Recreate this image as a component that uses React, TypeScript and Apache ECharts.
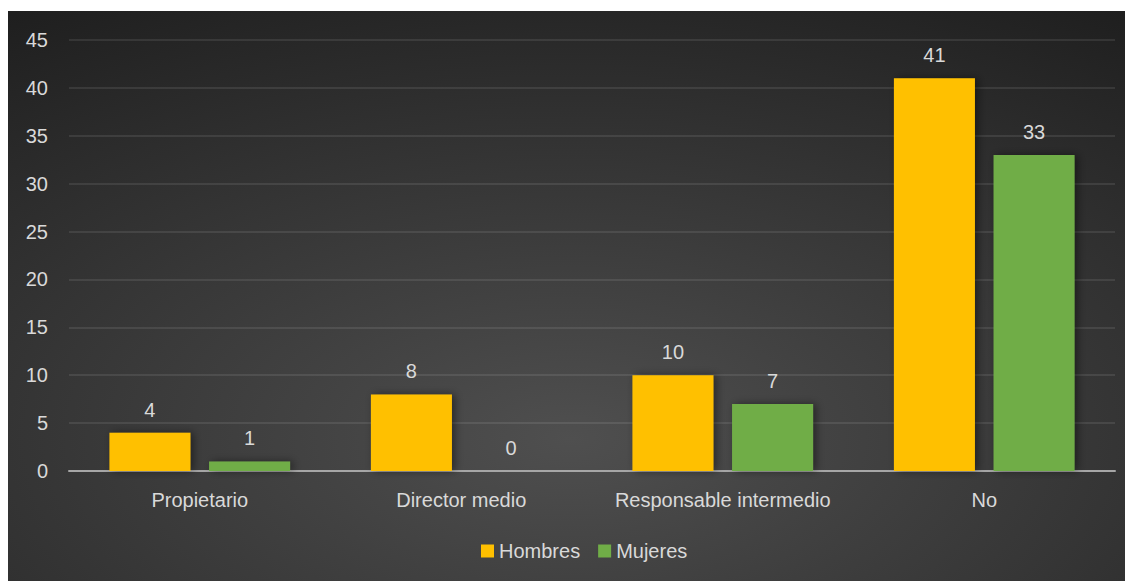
import React, { useEffect, useRef } from "react";
import * as echarts from "echarts";

const categories = ["Propietario", "Director medio", "Responsable intermedio", "No"];
const hombres = [4, 8, 10, 41];
const mujeres = [1, 0, 7, 33];
const seriesNames = ["Hombres", "Mujeres"];

export default function App() {
  const ref = useRef<HTMLDivElement>(null);
  useEffect(() => {
    const chart = echarts.init(ref.current!, null, { renderer: "svg" });
    const font = "'Liberation Sans', Arial, sans-serif";
    const txt = "#d9d9d9";
    const fs = 20;
    chart.setOption({
      animation: false,
      backgroundColor: {
        type: "radial",
        x: 0.5,
        y: 0.75,
        r: 0.95,
        colorStops: [
          { offset: 0, color: "#4f4f4f" },
          { offset: 1, color: "#1c1c1c" },
        ],
      },
      textStyle: { fontFamily: font },
      grid: { left: 61, right: 18, top: 29, bottom: 110, containLabel: false },
      legend: {
        bottom: 15,
        left: 468,
        itemWidth: 13,
        itemHeight: 13,
        itemGap: 18,
        icon: "rect",
        textStyle: { color: txt, fontSize: fs, fontFamily: font },
        data: seriesNames,
      },
      xAxis: {
        type: "category",
        data: categories,
        axisLine: { lineStyle: { color: "#a6a6a6", width: 2 } },
        axisTick: { show: false },
        axisLabel: { color: txt, fontSize: fs, margin: 19, interval: 0, fontFamily: font },
      },
      yAxis: {
        type: "value",
        min: 0,
        max: 45,
        interval: 5,
        axisLine: { show: false },
        axisTick: { show: false },
        axisLabel: { color: txt, fontSize: fs, margin: 21, fontFamily: font },
        splitLine: { lineStyle: { color: "rgba(255,255,255,0.12)", width: 1.5 } },
      },
      series: [
        {
          name: seriesNames[0],
          type: "bar",
          data: hombres,
          barWidth: 81,
          barGap: "23%",
          itemStyle: { color: "#ffc000", shadowBlur: 8, shadowColor: "rgba(0,0,0,0.45)", shadowOffsetX: 3 },
          label: { show: true, position: "top", distance: 13, color: txt, fontSize: fs, fontFamily: font },
        },
        {
          name: seriesNames[1],
          type: "bar",
          data: mujeres,
          barWidth: 81,
          itemStyle: { color: "#70ad47", shadowBlur: 8, shadowColor: "rgba(0,0,0,0.45)", shadowOffsetX: 3 },
          label: { show: true, position: "top", distance: 13, color: txt, fontSize: fs, fontFamily: font },
        },
      ],
    });
    return () => chart.dispose();
  }, []);
  return <div ref={ref} style={{ width: 1125, height: 570, marginTop: 3 }} />;
}
